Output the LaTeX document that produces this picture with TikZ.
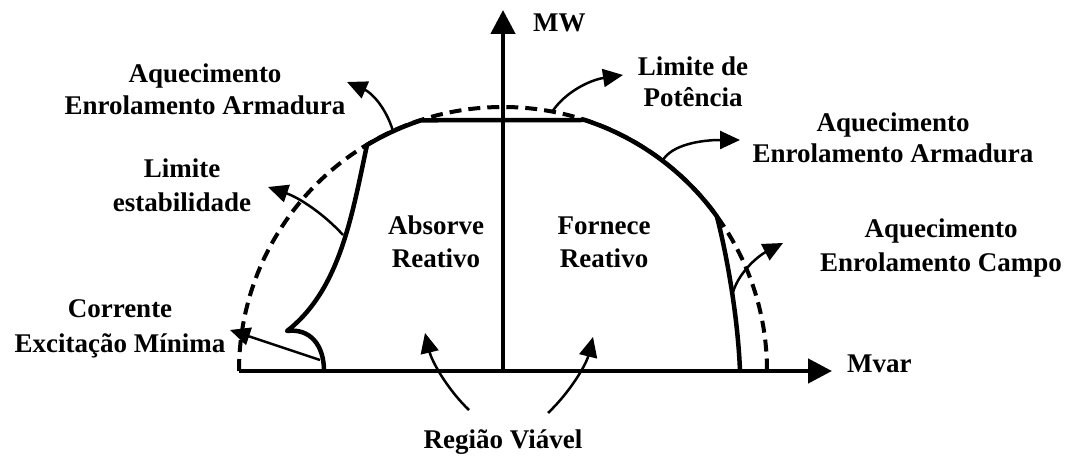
\documentclass[tikz,border=0pt]{standalone}
\usepackage{fontspec}
\setmainfont{Liberation Serif}
\usetikzlibrary{arrows.meta}
\begin{document}
\begin{tikzpicture}[x=1pt,y=1pt,
  lbl/.style={font=\fontsize{27}{33}\selectfont\bfseries, inner sep=0pt, anchor=base},
  axis/.style={line width=4.5pt, -{Triangle[length=24pt,width=24pt]}},
  bound/.style={line width=4.5pt, line join=round},
  limit/.style={line width=4pt, dash pattern=on 12pt off 7pt},
  pointer/.style={line width=2.5pt, -{Triangle[length=20pt,width=18pt]}}]
\useasboundingbox (0,0) rectangle (1067,457);
% origin and axes
\coordinate (O) at (503,86);
\coordinate (xs) at (239,86);
\coordinate (xe) at (832,86);
\coordinate (ye) at (503,447);
\draw[limit] (xs) arc[start angle=180, end angle=0, radius=264];
\draw[axis] (xs) -- (xe);
\draw[axis] (O) -- (ye);
% capability boundary
\draw[bound] (324,86) .. controls (324,112) and (310,129) .. (287,126)
  .. controls (340,167) and (352,242) .. (367,312)
  arc[start angle=121, end angle=108.05, radius=264]
  -- (584.7,337)
  arc[start angle=71.95, end angle=35.85, radius=264]
  .. controls (728,197) and (738,137) .. (740,86);
% labels
\node[lbl, anchor=base west] (mw) at (533,425) {MW};
\node[lbl, anchor=base west] (mvar) at (847,84) {Mvar};
\node[lbl] (aqL1) at (205,374) {Aquecimento};
\node[lbl] (aqL2) at (205,342) {Enrolamento Armadura};
\node[lbl] (st1) at (182,279) {Limite};
\node[lbl] (st2) at (182,245) {estabilidade};
\node[lbl] (pw1) at (693,381) {Limite de};
\node[lbl] (pw2) at (693,350) {Potência};
\node[lbl] (aqR1) at (893,325) {Aquecimento};
\node[lbl] (aqR2) at (893,294) {Enrolamento Armadura};
\node[lbl] (cp1) at (941,219) {Aquecimento};
\node[lbl] (cp2) at (941,185) {Enrolamento Campo};
\node[lbl] (ab1) at (436,222) {Absorve};
\node[lbl] (ab2) at (436,189) {Reativo};
\node[lbl] (fo1) at (604,222) {Fornece};
\node[lbl] (fo2) at (604,189) {Reativo};
\node[lbl] (co1) at (120,139) {Corrente};
\node[lbl] (co2) at (120,104) {Excitação Mínima};
\node[lbl] (rv) at (503,8) {Região Viável};
% pointer arrows
\coordinate (pA1) at (393,326); \coordinate (tA1) at (347,375);
\coordinate (pS) at (343,222);  \coordinate (tS) at (268,270);
\coordinate (pM) at (320,97);   \coordinate (tM) at (230,127);
\coordinate (pP) at (552,345);  \coordinate (tP) at (623,382);
\coordinate (pA2) at (663,297); \coordinate (tA2) at (740,317);
\coordinate (pF) at (733,165);  \coordinate (tF) at (783,214);
\coordinate (pR1) at (469,47);  \coordinate (tR1) at (425,124);
\coordinate (pR2) at (548,44);  \coordinate (tR2) at (593,120);
\draw[pointer] (pA1) .. controls (385,352) and (370,365) .. (tA1);
\draw[pointer] (pS) .. controls (325,242) and (300,259) .. (tS);
\draw[pointer] (pM) -- (tM);
\draw[pointer] (pP) .. controls (565,365) and (590,377) .. (tP);
\draw[pointer] (pA2) .. controls (672,312) and (700,317) .. (tA2);
\draw[pointer] (pF) .. controls (740,187) and (760,202) .. (tF);
\draw[pointer] (pR1) .. controls (448,67) and (432,95) .. (tR1);
\draw[pointer] (pR2) .. controls (570,65) and (586,92) .. (tR2);
\end{tikzpicture}
\end{document}
